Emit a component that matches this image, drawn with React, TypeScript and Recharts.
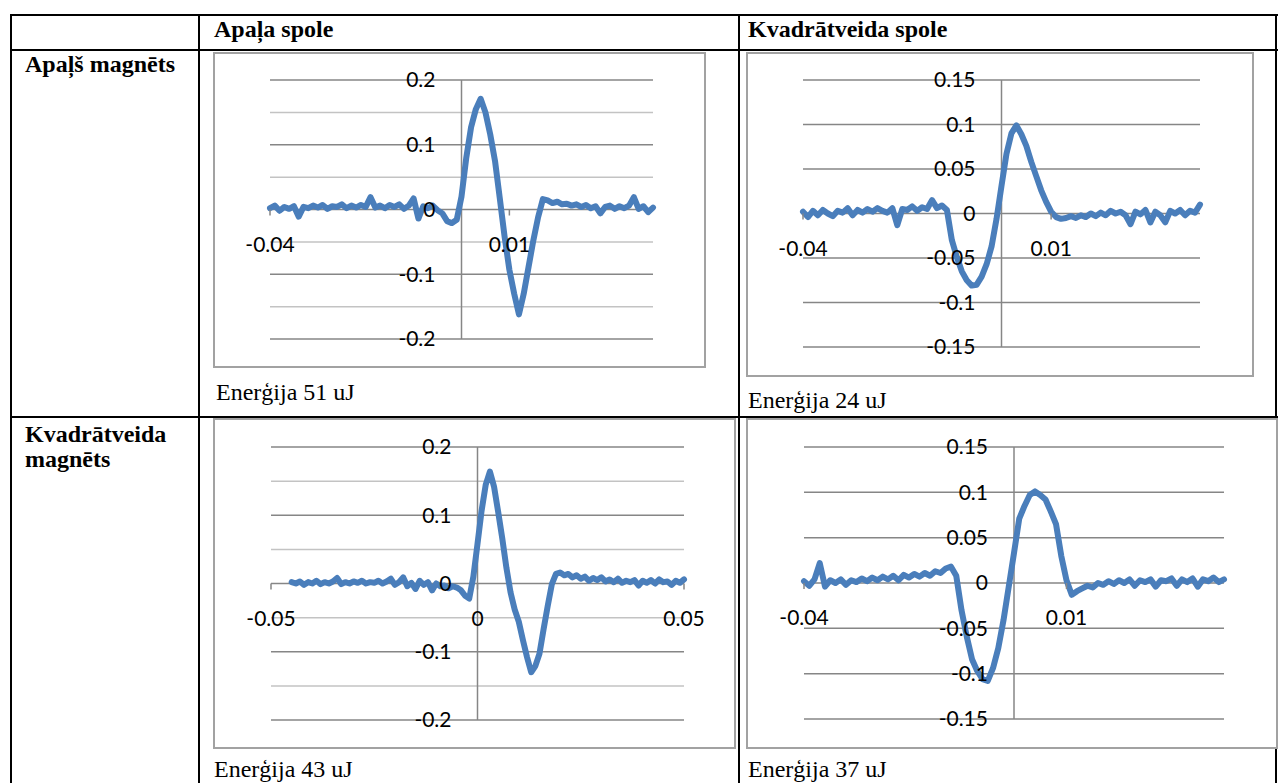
import React from 'react';
import { LineChart, Line, XAxis, YAxis, CartesianGrid, ReferenceLine } from 'recharts';

// time in ms (x axis is shown in seconds)
const timeMs = [
  -40, -39, -38, -37, -36, -35, -34, -33, -32, -31,
  -30, -29, -28, -27, -26, -25, -24, -23, -22, -21,
  -20, -19, -18, -17, -16, -15, -14, -13, -12, -11,
  -10, -9, -8, -7, -6, -5, -4, -3, -2, -1,
  0, 1, 2, 3, 4, 5, 6, 7, 8, 9,
  10, 11, 12, 13, 14, 15, 16, 17, 18, 19,
  20, 21, 22, 23, 24, 25, 26, 27, 28, 29,
  30, 31, 32, 33, 34, 35, 36, 37, 38, 39,
  40,
];

const timeMsWide = [
  -45, -44, -43, -42, -41, -40, -39, -38, -37, -36,
  -35, -34, -33, -32, -31, -30, -29, -28, -27, -26,
  -25, -24, -23, -22, -21, -20, -19, -18, -17, -16,
  -15, -14, -13, -12, -11, -10, -9, -8, -7, -6,
  -5, -4, -3, -2, -1, 0, 1, 2, 3, 4,
  5, 6, 7, 8, 9, 10, 11, 12, 13, 14,
  15, 16, 17, 18, 19, 20, 21, 22, 23, 24,
  25, 26, 27, 28, 29, 30, 31, 32, 33, 34,
  35, 36, 37, 38, 39, 40, 41, 42, 43, 44,
  45, 46, 47, 48, 49, 50,
];

// Apaļš magnēts / Apaļa spole
const roundRound = [
  0.002, 0.006, -0.002, 0.004, 0.001, 0.005, -0.011, 0.004, 0.002, 0.006,
  0.003, 0.007, 0.001, 0.005, 0.004, 0.008, 0.002, 0.006, 0.003, 0.007,
  0.004, 0.019, 0.003, 0.006, 0.002, 0.007, 0.004, 0.008, 0.001, 0.006,
  0.017, -0.014, 0.005, 0.002, 0.006, -0.001, -0.006, -0.018, -0.021, -0.016,
  0.020, 0.080, 0.127, 0.155, 0.171, 0.150, 0.116, 0.075, 0.017, -0.042,
  -0.093, -0.130, -0.162, -0.130, -0.089, -0.048, -0.012, 0.016, 0.014, 0.010,
  0.012, 0.008, 0.009, 0.006, 0.008, 0.004, 0.007, 0.002, 0.005, -0.006,
  0.004, 0.006, 0.001, 0.005, 0.002, 0.006, 0.019, 0.001, 0.005, -0.004,
  0.003,
];

// Apaļš magnēts / Kvadrātveida spole
const roundSquare = [
  0.002, -0.004, 0.003, -0.002, 0.004, 0.000, -0.003, 0.003, 0.001, 0.006,
  -0.002, 0.004, 0.001, 0.005, 0.002, 0.006, 0.003, 0.001, 0.006, -0.013,
  0.005, 0.004, 0.008, 0.003, 0.007, 0.005, 0.015, 0.006, 0.009, 0.004,
  -0.030, -0.049, -0.065, -0.075, -0.081, -0.080, -0.071, -0.057, -0.037, -0.006,
  0.031, 0.067, 0.090, 0.099, 0.089, 0.076, 0.058, 0.042, 0.026, 0.013,
  0.002, -0.004, -0.006, -0.005, -0.003, -0.005, -0.002, -0.004, 0.000, -0.003,
  0.001, -0.002, 0.003, 0.000, 0.002, -0.002, -0.012, 0.002, -0.001, 0.004,
  -0.010, 0.002, -0.002, -0.010, 0.003, 0.000, 0.004, -0.002, 0.003, 0.001,
  0.010,
];

// Kvadrātveida magnēts / Apaļa spole
const squareRound = [
  0.002, 0.000, 0.003, -0.002, 0.002, 0.000, 0.004, -0.001, 0.002, 0.000,
  0.003, 0.008, -0.001, 0.002, 0.000, 0.003, 0.001, 0.004, 0.000, 0.002,
  0.001, 0.004, 0.000, 0.003, 0.007, -0.002, 0.002, 0.009, -0.004, 0.001,
  -0.008, 0.004, -0.002, 0.002, -0.010, 0.000, -0.004, -0.003, -0.007, -0.004,
  -0.006, -0.010, -0.018, -0.022, 0.010, 0.058, 0.107, 0.145, 0.164, 0.142,
  0.105, 0.066, 0.023, -0.013, -0.038, -0.056, -0.083, -0.108, -0.130, -0.121,
  -0.103, -0.067, -0.033, -0.001, 0.014, 0.016, 0.012, 0.014, 0.009, 0.012,
  0.007, 0.010, 0.004, 0.008, 0.005, 0.009, 0.003, 0.006, 0.002, 0.007,
  0.001, 0.004, 0.002, 0.005, -0.003, 0.004, 0.001, 0.005, 0.000, 0.006,
  0.002, 0.003, -0.002, 0.004, 0.001, 0.006,
];

// Kvadrātveida magnēts / Kvadrātveida spole
const squareSquare = [
  0.002, -0.003, 0.004, 0.022, -0.004, 0.003, 0.000, 0.004, -0.002, 0.003,
  0.001, 0.005, 0.002, 0.006, 0.003, 0.007, 0.004, 0.008, 0.003, 0.009,
  0.006, 0.010, 0.007, 0.011, 0.008, 0.013, 0.011, 0.016, 0.018, 0.008,
  -0.030, -0.059, -0.084, -0.097, -0.106, -0.108, -0.094, -0.072, -0.041, -0.004,
  0.033, 0.071, 0.085, 0.097, 0.101, 0.097, 0.092, 0.079, 0.065, 0.030,
  0.003, -0.013, -0.009, -0.006, -0.003, -0.005, 0.000, -0.002, 0.002, -0.001,
  0.003, 0.000, 0.004, -0.003, 0.003, 0.001, 0.004, -0.004, 0.003, 0.002,
  0.005, -0.003, 0.004, 0.001, 0.005, -0.004, 0.004, 0.002, 0.006, 0.001,
  0.004,
];

const xTicksNarrow = [-0.04, 0.01];
const xTicksWide = [-0.05, 0, 0.05];
const yTicks02 = [-0.2, -0.1, 0, 0.1, 0.2];
const yMinor02 = [-0.15, -0.05, 0.05, 0.15];
const yTicks015 = [-0.15, -0.1, -0.05, 0, 0.05, 0.1, 0.15];

const colHeaders = ['Apaļa spole', 'Kvadrātveida spole'];
const energyLabels = ['Enerģija 51 uJ', 'Enerģija 24 uJ', 'Enerģija 43 uJ', 'Enerģija 37 uJ'];

const toRows = (ms: number[], vals: number[]) => ms.map((m, i) => ({ t: m / 1000, v: vals[i] }));

const BLUE = '#4a7ebb';
const MAJOR = '#868686';
const MINOR = '#c3c3c3';
const TICK_FONT = 'Lato, "Noto Sans", sans-serif';
const AXIS_PAD = 2; // space the axes themselves take inside the margins

type Box = { left: number; top: number; width: number; height: number };
type Plot = { left: number; top: number; right: number; bottom: number };

function PulseChart({ data, box, plot, xDomain, xTicks, yDomain, yTicks, yMinor }: {
  data: { t: number; v: number }[];
  box: Box;
  plot: Plot;
  xDomain: [number, number];
  xTicks: number[];
  yDomain: [number, number];
  yTicks: number[];
  yMinor: number[];
}) {
  const left = plot.left - box.left;
  const top = plot.top - box.top;
  const margin = {
    left: left - AXIS_PAD,
    top,
    right: box.left + box.width - plot.right,
    bottom: box.top + box.height - plot.bottom - AXIS_PAD,
  };
  const plotW = plot.right - plot.left;
  const plotH = plot.bottom - plot.top;
  const zeroX = left + (plotW * (0 - xDomain[0])) / (xDomain[1] - xDomain[0]);
  const zeroY = top + (plotH * yDomain[1]) / (yDomain[1] - yDomain[0]);

  const xTick = (p: any) => (
    <g>
      <line x1={p.x} x2={p.x} y1={zeroY} y2={zeroY + 6} stroke={MAJOR} strokeWidth={1.5} />
      <text x={p.x} y={zeroY + 35} dy="0.35em" textAnchor="middle" fontFamily={TICK_FONT} fontSize={21} fill="#000">
        {String(p.payload.value)}
      </text>
    </g>
  );
  const yTick = (p: any) => (
    <text x={zeroX - 26} y={p.y} dy="0.35em" textAnchor="end" fontFamily={TICK_FONT} fontSize={21} fill="#000">
      {String(p.payload.value)}
    </text>
  );

  return (
    <div style={{ position: 'absolute', left: box.left, top: box.top, width: box.width, height: box.height, background: '#fff' }}>
      <LineChart width={box.width} height={box.height} data={data} margin={margin}>
        <CartesianGrid vertical={false} stroke={MAJOR} strokeWidth={1.5} />
        {yMinor.map((y) => (
          <ReferenceLine key={y} y={y} stroke={MINOR} strokeWidth={1.5} />
        ))}
        <ReferenceLine x={0} stroke={MAJOR} strokeWidth={1.5} />
        <XAxis
          dataKey="t"
          type="number"
          domain={xDomain}
          ticks={xTicks}
          interval={0}
          height={AXIS_PAD}
          axisLine={false}
          tickLine={false}
          tick={xTick}
        />
        <YAxis
          type="number"
          domain={yDomain}
          ticks={yTicks}
          interval={0}
          width={AXIS_PAD}
          axisLine={false}
          tickLine={false}
          tick={yTick}
        />
        <Line
          type="linear"
          dataKey="v"
          stroke={BLUE}
          strokeWidth={6}
          strokeLinejoin="round"
          strokeLinecap="round"
          dot={false}
          isAnimationActive={false}
        />
      </LineChart>
      <div style={{ position: 'absolute', inset: 0, border: '2px solid #a2a2a2', pointerEvents: 'none' }} />
    </div>
  );
}

export default function App() {
  const serif = '"Liberation Serif", "Times New Roman", serif';
  return (
    <div style={{ position: 'absolute', left: 0, top: 0, width: 1278, height: 783, overflow: 'hidden', background: '#fff' }}>
      <svg width={1278} height={783} style={{ position: 'absolute', left: 0, top: 0 }}>
        {/* table rules */}
        <rect x={10} y={14} width={1268} height={2} fill="#000" />
        <rect x={10} y={49} width={1268} height={2} fill="#000" />
        <rect x={10} y={416} width={1268} height={2} fill="#000" />
        <rect x={10} y={14} width={2} height={769} fill="#000" />
        <rect x={198} y={14} width={2} height={769} fill="#000" />
        <rect x={738} y={14} width={2} height={769} fill="#000" />
        <rect x={1275} y={14} width={2} height={769} fill="#000" />

        <g fontFamily={serif} fontWeight="bold" fontSize={24} fill="#000">
          <text x={214} y={37}>{colHeaders[0]}</text>
          <text x={748} y={37}>{colHeaders[1]}</text>
          <text x={25} y={72}>Apaļš magnēts</text>
          <text x={25} y={442}>Kvadrātveida</text>
          <text x={25} y={467}>magnēts</text>
        </g>
        <g fontFamily={serif} fontSize={24} fill="#000">
          <text x={216} y={400}>{energyLabels[0]}</text>
          <text x={748} y={408}>{energyLabels[1]}</text>
          <text x={214} y={777}>{energyLabels[2]}</text>
          <text x={748} y={777}>{energyLabels[3]}</text>
        </g>
      </svg>

      <PulseChart
        data={toRows(timeMs, roundRound)}
        box={{ left: 213, top: 52, width: 493, height: 316 }}
        plot={{ left: 270, top: 80, right: 653, bottom: 339 }}
        xDomain={[-0.04, 0.04]}
        xTicks={xTicksNarrow}
        yDomain={[-0.2, 0.2]}
        yTicks={yTicks02}
        yMinor={yMinor02}
      />
      <PulseChart
        data={toRows(timeMs, roundSquare)}
        box={{ left: 746, top: 52, width: 508, height: 325 }}
        plot={{ left: 803, top: 80, right: 1200, bottom: 347 }}
        xDomain={[-0.04, 0.04]}
        xTicks={xTicksNarrow}
        yDomain={[-0.15, 0.15]}
        yTicks={yTicks015}
        yMinor={[]}
      />
      <PulseChart
        data={toRows(timeMsWide, squareRound)}
        box={{ left: 213, top: 418, width: 523, height: 331 }}
        plot={{ left: 271, top: 447, right: 684, bottom: 720 }}
        xDomain={[-0.05, 0.05]}
        xTicks={xTicksWide}
        yDomain={[-0.2, 0.2]}
        yTicks={yTicks02}
        yMinor={yMinor02}
      />
      <PulseChart
        data={toRows(timeMs, squareSquare)}
        box={{ left: 746, top: 418, width: 532, height: 331 }}
        plot={{ left: 804, top: 447, right: 1224, bottom: 719 }}
        xDomain={[-0.04, 0.04]}
        xTicks={xTicksNarrow}
        yDomain={[-0.15, 0.15]}
        yTicks={yTicks015}
        yMinor={[]}
      />
    </div>
  );
}
